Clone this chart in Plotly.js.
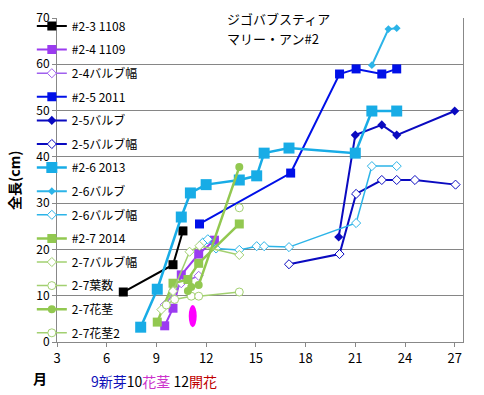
<!DOCTYPE html>
<html><head><meta charset="utf-8">
<script src="https://cdn.plot.ly/plotly-3.0.1.min.js"></script>
<style>html,body{margin:0;padding:0;background:#fff}#c{width:484px;height:395px}</style>
</head><body><div id="c"></div>
<script>
// data: x = month (13.. = following year), y = length (cm)
const s23_x = [7, 10, 10.6];               const s23_y = [10.8, 16.7, 24.0];
const s24_x = [9.5, 10.0, 10.5, 11.55, 12.5]; const s24_y = [3.5, 7.3, 14.5, 19.0, 22.0];
const s24w_x = [9.5, 10.5, 11.55];          const s24w_y = [8.0, 12.7, 14.3];
const s25_x = [11.6, 17.1, 20.05, 21.05, 22.6, 23.5]; const s25_y = [25.5, 36.5, 57.9, 59.0, 57.9, 59.0];
const s25b_x = [20.0, 21.0, 22.6, 23.5, 27.0];        const s25b_y = [22.7, 44.7, 46.9, 44.7, 49.9];
const s25w_x = [17.0, 20.05, 21.05, 22.6, 23.5, 24.6, 27.05]; const s25w_y = [16.8, 19.0, 32.0, 35.0, 35.0, 35.0, 34.0];
const s26_x = [8.05, 9.05, 10.5, 11.05, 12.0, 14.0, 15.05, 15.5, 17.0, 21.0, 22.0, 23.5];
const s26_y = [3.2, 11.4, 27.0, 32.2, 34.0, 35.0, 35.9, 40.8, 41.9, 40.8, 49.9, 49.9];
const s26b_x = [22.0, 23.0, 23.5];          const s26b_y = [59.8, 67.6, 67.8];
const s26w_x = [11.8, 12.1, 12.6, 14.0, 15.05, 15.5, 17.0, 21.05, 22.0, 23.5];
const s26w_y = [21.5, 22.2, 20.2, 19.9, 20.7, 20.7, 20.5, 25.7, 38.0, 38.0];
const s27_x = [9.05, 10.0, 10.9, 11.55, 14.0]; const s27_y = [4.3, 12.7, 13.5, 17.0, 25.5];
const s27w_x = [9.3, 10.0, 11.0, 11.6, 14.0];  const s27w_y = [7.0, 11.0, 19.5, 20.8, 18.8];
const s27l_x = [9.6, 10.1, 11.1, 11.55, 14.0]; const s27l_y = [8.0, 9.2, 9.9, 9.9, 10.8];
const s27f_x = [10.9, 11.1, 11.55, 14.0];      const s27f_y = [11.0, 11.9, 12.3, 37.8];
const s27f2_x = [14.0];                        const s27f2_y = [29.0];
const names = ['#2-3 1108','#2-4 1109','2-4バルブ幅','#2-5 2011','2-5バルブ','2-5バルブ幅',
  '#2-6 2013','2-6バルブ','2-6バルブ幅','#2-7 2014','2-7バルブ幅','2-7葉数','2-7花茎','2-7花茎2'];
const xTicks = [3, 6, 9, 12, 15, 18, 21, 24, 27];
const flowerMark = [10.95, 11.43, 3.2, 8.0]; // x0,x1,y0,y1 of magenta ellipse

const C = {blk:'#000000', pur:'#9B3BF0', pur2:'#A060EE', blu:'#0010E8', dblu:'#0A0AC0',
  lb:'#18ACE6', lb2:'#2CB4E8', gr:'#92C850', gr2:'#A2D070'};
function tr(x, y, i, color, sym, size, lw, open) {
  return {x, y, name: names[i], legendgroup: 'g'+i, type:'scatter', mode:'lines+markers',
    line:{color, width:lw},
    marker:{symbol:sym, size, color: open ? '#ffffff' : color, line:{color, width: open ? 1 : 0}}};
}
const data = [
  tr(s23_x, s23_y, 0, C.blk, 'square', 9, 2),
  tr(s24_x, s24_y, 1, C.pur, 'square', 9, 2),
  tr(s24w_x, s24w_y, 2, C.pur2, 'diamond', 7, 1.5, true),
  tr(s25_x, s25_y, 3, C.blu, 'square', 9, 2),
  tr(s25b_x, s25b_y, 4, C.dblu, 'diamond', 7, 2),
  tr(s25w_x, s25w_y, 5, C.dblu, 'diamond', 7, 2, true),
  tr(s26_x, s26_y, 6, C.lb, 'square', 11, 2.5),
  tr(s26b_x, s26b_y, 7, C.lb2, 'diamond', 6, 2),
  tr(s26w_x, s26w_y, 8, C.lb2, 'diamond', 7, 1.5, true),
  tr(s27_x, s27_y, 9, C.gr, 'square', 9, 2.5),
  tr(s27w_x, s27w_y, 10, C.gr2, 'diamond', 7, 1.5, true),
  tr(s27l_x, s27l_y, 11, C.gr2, 'circle', 8, 1.5, true),
  tr(s27f_x, s27f_y, 12, C.gr, 'circle', 8, 2.5),
  tr(s27f2_x, s27f2_y, 13, C.gr2, 'circle', 8, 1.5, true)
];
const F = 'Noto Sans CJK JP, sans-serif';
const layout = {
  width:484, height:395, margin:{l:57, r:21, t:18, b:53},
  paper_bgcolor:'#fff', plot_bgcolor:'#fff',
  font:{family:F, size:12, color:'#000'},
  showlegend:true,
  legend:{x:-0.062, y:1.02, xanchor:'left', yanchor:'top', bgcolor:'rgba(0,0,0,0)',
    tracegroupgap:4.6, font:{family:F, size:12}, itemwidth:30, maxheight:390},
  xaxis:{range:[3, 27.5], tickvals:xTicks, ticks:'outside', ticklen:4, tickcolor:'#888',
    showgrid:false, zeroline:false, showline:true, linecolor:'#888', linewidth:1,
    tickfont:{family:F, size:13}},
  yaxis:{range:[0, 70], dtick:10, ticks:'outside', ticklen:4, tickcolor:'#888',
    showgrid:true, gridcolor:'#868686', gridwidth:1, zeroline:false,
    showline:true, linecolor:'#888', mirror:true, tickfont:{family:F, size:12}},
  shapes:[{type:'circle', xref:'x', yref:'y', x0:flowerMark[0], x1:flowerMark[1],
    y0:flowerMark[2], y1:flowerMark[3], fillcolor:'#FF00FF', line:{width:0}, layer:'above'}],
  annotations:[
    {xref:'paper', yref:'paper', x:0.415, y:1.0, xanchor:'left', yanchor:'middle',
     showarrow:false, text:'ジゴバブスティア', font:{family:F, size:13}},
    {xref:'paper', yref:'paper', x:0.415, y:0.938, xanchor:'left', yanchor:'middle',
     showarrow:false, text:'マリー・アン#2', font:{family:F, size:13}},
    {xref:'paper', yref:'paper', x:-0.106, y:0.5, xanchor:'center', yanchor:'middle', textangle:-90, showarrow:false,
     text:'<b>全長(cm)</b>', font:{family:F, size:14}},
    {xref:'paper', yref:'paper', x:-0.042, y:-0.111, xanchor:'center', yanchor:'middle', showarrow:false,
     text:'<b>月</b>', font:{family:F, size:14}},
    {xref:'paper', yref:'paper', x:0.08, y:-0.12, xanchor:'left', yanchor:'middle', showarrow:false,
     text:'<span style="color:#1010B8">9新芽</span>10<span style="color:#CC33CC">花茎</span> 12<span style="color:#C00000">開花</span>',
     font:{family:F, size:14}}
  ]
};
Plotly.newPlot('c', data, layout, {displayModeBar:false, staticPlot:true});
</script></body></html>
